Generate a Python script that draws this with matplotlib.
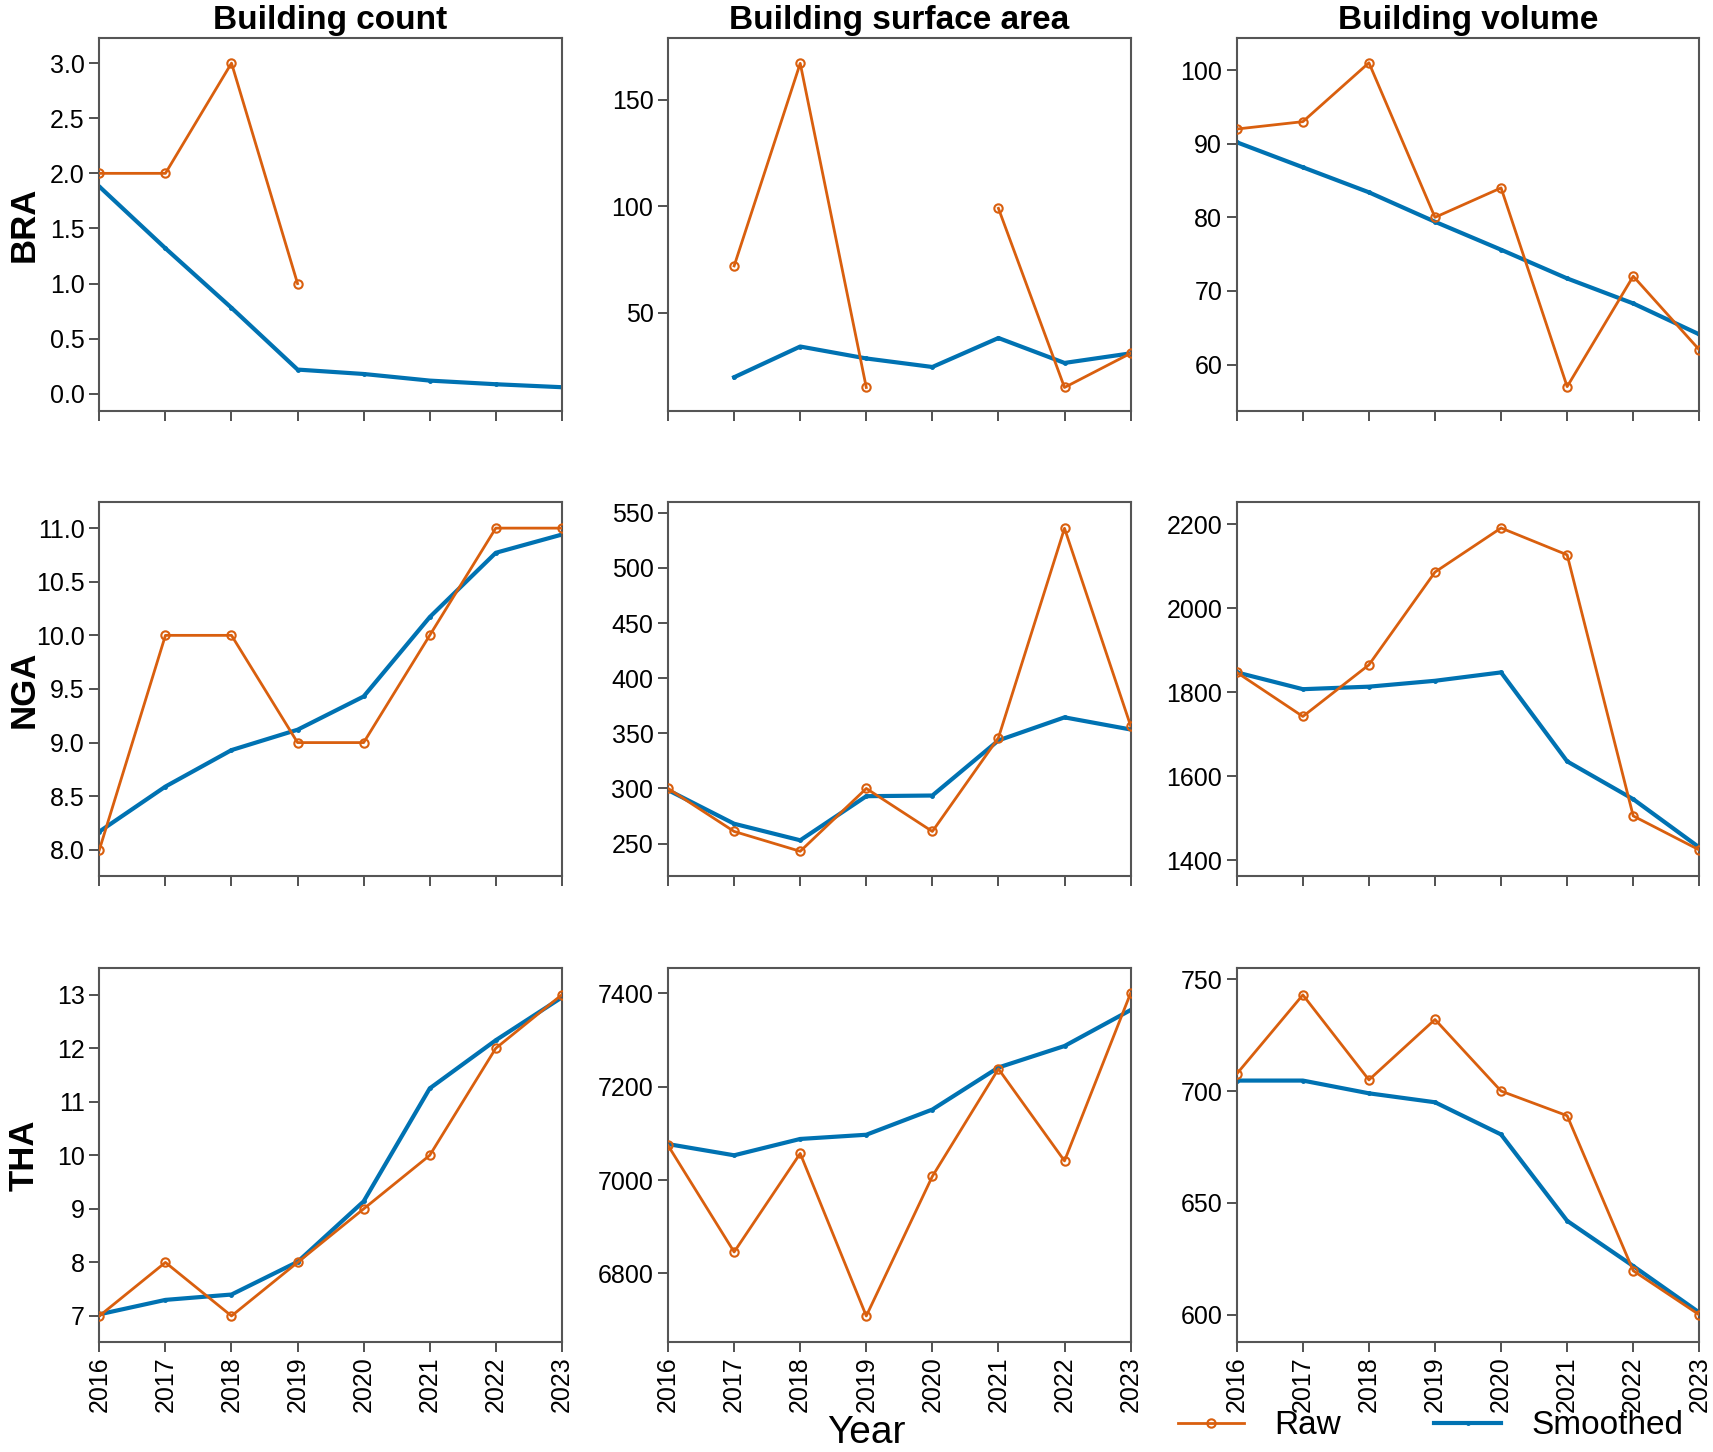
import numpy as np
import matplotlib
matplotlib.use('Agg')
import matplotlib.pyplot as plt
from matplotlib.ticker import MultipleLocator, FormatStrFormatter

plt.rcParams['font.family'] = ['Liberation Sans', 'DejaVu Sans']

nan = np.nan
years = [2016, 2017, 2018, 2019, 2020, 2021, 2022, 2023]
countries = ['BRA', 'NGA', 'THA']
metrics = ['Building count', 'Building surface area', 'Building volume']

# raw / smoothed values, one list per country and metric
bra_count_raw = [2, 2, 3, 1, nan, nan, nan, nan]
bra_count_smooth = [1.88, 1.32, 0.78, 0.22, 0.18, 0.12, 0.087, 0.06]
bra_area_raw = [nan, 72, 167, 15, nan, 99, 15, 31]
bra_area_smooth = [nan, 19.8, 34.2, 28.6, 24.6, 38.2, 26.5, 31]
bra_vol_raw = [92, 93, 101, 80, 84, 57, 72, 62]
bra_vol_smooth = [90.2, 86.8, 83.4, 79.4, 75.6, 71.7, 68.3, 64.1]

nga_count_raw = [8, 10, 10, 9, 9, 10, 11, 11]
nga_count_smooth = [8.17, 8.59, 8.93, 9.12, 9.43, 10.17, 10.77, 10.94]
nga_area_raw = [300, 261, 243, 300, 261, 346, 536, 357]
nga_area_smooth = [298.5, 268, 253, 293, 293.6, 343.6, 364.5, 353.5]
nga_vol_raw = [1847, 1742, 1865, 2086, 2191, 2127, 1505, 1424]
nga_vol_smooth = [1847, 1807, 1813, 1827, 1847, 1635, 1545, 1430]

tha_count_raw = [7, 8, 7, 8, 9, 10, 12, 13]
tha_count_smooth = [7.03, 7.30, 7.40, 8.01, 9.14, 11.25, 12.15, 12.95]
tha_area_raw = [7074, 6846, 7057, 6709, 7008, 7238, 7041, 7400]
tha_area_smooth = [7077, 7053, 7088, 7097, 7151, 7241, 7287, 7364]
tha_vol_raw = [707.7, 743, 705, 732, 700, 689, 619.7, 600]
tha_vol_smooth = [704.7, 704.7, 699, 695, 680.6, 642, 621.8, 601]

raw = [[bra_count_raw, bra_area_raw, bra_vol_raw],
       [nga_count_raw, nga_area_raw, nga_vol_raw],
       [tha_count_raw, tha_area_raw, tha_vol_raw]]
smooth = [[bra_count_smooth, bra_area_smooth, bra_vol_smooth],
          [nga_count_smooth, nga_area_smooth, nga_vol_smooth],
          [tha_count_smooth, tha_area_smooth, tha_vol_smooth]]

# axis limits and tick steps
ylims = [[(-0.155, 3.23), (4, 179), (53.7, 104.4)],
         [(7.76, 11.24), (221, 559.5), (1363, 2252)],
         [(6.52, 13.49), (6654, 7453), (588, 754.8)]]
ysteps = [[0.5, 50, 10], [0.5, 50, 200], [1, 200, 50]]
yfmt = [['%.1f', '%d', '%d'], ['%.1f', '%d', '%d'], ['%d', '%d', '%d']]

c_raw = '#D95F0E'
c_smooth = '#0072B2'

fig = plt.figure(figsize=(17.13, 14.52), dpi=100)

lefts = [0.058, 0.390, 0.722]
bottoms = [0.717, 0.397, 0.076]
w, h = 0.270, 0.257

for i in range(3):
    for j in range(3):
        ax = fig.add_axes([lefts[j], bottoms[i], w, h])
        lr, = ax.plot(years, raw[i][j], color=c_raw, lw=2, marker='o', ms=6,
                      mfc='none', mec=c_raw, mew=1.5, label='Raw', zorder=3)
        ls, = ax.plot(years, smooth[i][j], color=c_smooth, lw=3, marker='.',
                      ms=5, label='Smoothed', zorder=2)
        ax.set_xlim(2016, 2023)
        ax.set_ylim(*ylims[i][j])
        ax.set_xticks(years)
        ax.yaxis.set_major_locator(MultipleLocator(ysteps[i][j]))
        ax.yaxis.set_major_formatter(FormatStrFormatter(yfmt[i][j]))
        ax.tick_params(axis='both', labelsize=18, length=7, width=1.2,
                       direction='out', color='#333333')
        if i == 2:
            ax.set_xticklabels([str(y) for y in years], rotation=90)
        else:
            ax.set_xticklabels([])
        for s in ax.spines.values():
            s.set_color('#555555')
            s.set_linewidth(1.5)
        if i == 0:
            ax.set_title(metrics[j], fontsize=24, fontweight='bold', pad=6)
        if j == 0:
            fig.text(0.014, bottoms[i] + h / 2, countries[i], rotation=90,
                     fontsize=25, fontweight='bold', ha='center', va='center')

fig.text(0.506, 0.013, 'Year', fontsize=28, ha='center', va='center')

fig.legend([lr, ls], ['Raw', 'Smoothed'], loc='center',
           bbox_to_anchor=(0.835, 0.018), ncol=2, frameon=False,
           fontsize=24, handlelength=2.0, handletextpad=0.9,
           columnspacing=2.8, borderaxespad=0)

fig.savefig('out.png', dpi=100)
